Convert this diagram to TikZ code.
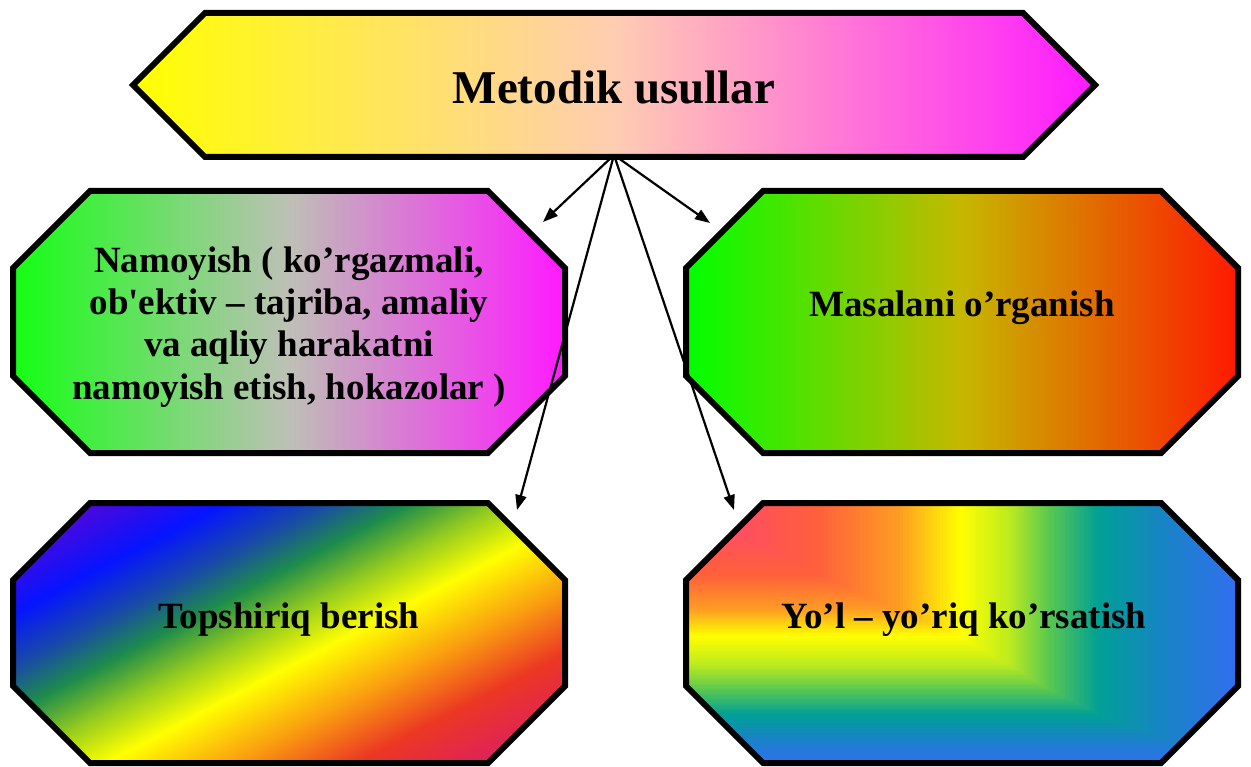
\documentclass[tikz,border=0pt]{standalone}
\usepackage{fontspec}
\setmainfont{Liberation Serif}[Ligatures=TeXOff]
\usetikzlibrary{arrows.meta}
\definecolor{topL}{RGB}{255,255,0}
\definecolor{topM}{RGB}{255,205,178}
\definecolor{topR}{RGB}{255,25,255}
\definecolor{namL}{RGB}{20,255,20}
\definecolor{namM}{RGB}{190,192,182}
\definecolor{namR}{RGB}{255,25,255}
\definecolor{masL}{RGB}{0,255,0}
\definecolor{masM}{RGB}{198,183,0}
\definecolor{masR}{RGB}{255,25,0}
\definecolor{rb0}{RGB}{120,0,200}
\definecolor{rb1}{RGB}{5,20,255}
\definecolor{rb2}{RGB}{25,75,165}
\definecolor{rb3}{RGB}{30,140,75}
\definecolor{rb4}{RGB}{150,205,30}
\definecolor{rb5}{RGB}{255,255,0}
\definecolor{rb6}{RGB}{250,160,15}
\definecolor{rb7}{RGB}{235,55,35}
\definecolor{rb8}{RGB}{215,20,125}
\definecolor{yl0}{RGB}{50,110,240}
\definecolor{yl1}{RGB}{25,130,200}
\definecolor{yl2}{RGB}{0,160,150}
\definecolor{yl3}{RGB}{90,200,80}
\definecolor{yl4}{RGB}{190,235,30}
\definecolor{yl5}{RGB}{255,255,0}
\definecolor{yl6}{RGB}{255,155,35}
\definecolor{yl7}{RGB}{255,95,60}
\definecolor{yl8}{RGB}{255,70,115}
\pgfdeclarehorizontalshading{rainbowdiag}{100bp}{color(0bp)=(rb0); color(25bp)=(rb0); color(35bp)=(rb1); color(40bp)=(rb2); color(44bp)=(rb3); color(48.5bp)=(rb4); color(53bp)=(rb5); color(59bp)=(rb6); color(65bp)=(rb7); color(75bp)=(rb8); color(100bp)=(rb8)}
\newcommand\octa[4]{({#1+77},#2) -- ({#3-77},#2) -- (#3,{#2+77}) -- (#3,{#4-77}) -- ({#3-77},#4) -- ({#1+77},#4) -- (#1,{#4-77}) -- (#1,{#2+77}) -- cycle}
\begin{document}
\begin{tikzpicture}[x=1pt,y=-1pt,line join=miter,
  border/.style={draw=black,line width=6pt},
  conn/.style={line width=2.2pt,-{Triangle[length=15pt,width=11pt]}},
  ttl/.style={font=\fontsize{47}{52}\selectfont\bfseries,inner sep=0pt,anchor=base},
  lbl/.style={font=\fontsize{37}{42.3}\selectfont\bfseries,align=center,inner sep=0pt,anchor=base}]
\useasboundingbox (0,0) rectangle (1251,767);
% top hexagon
\path[border,left color=topL,right color=topR,middle color=topM] (133,85) -- (205,13) -- (1023,13) -- (1095,85) -- (1023,157) -- (205,157) -- cycle;
% Namoyish
\path[border,left color=namL,right color=namR,middle color=namM] \octa{13}{191}{565}{453};
% Masalani
\path[border,left color=masL,right color=masR,middle color=masM] \octa{686}{191}{1238}{453};
% Topshiriq
\begin{scope}
  \clip \octa{13}{503}{565}{763};
  \begin{scope}[transform canvas={shift={(13,503)},rotate=-62.3}]
    \shade[shading=rainbowdiag] (0,-700) rectangle (487,700);
  \end{scope}
\end{scope}
\draw[border] \octa{13}{503}{565}{763};
% Yo'l
\begin{scope}
  \clip \octa{686}{503}{1238}{763};
  \fill[yl0] (680,495) rectangle (1245,770);
  \foreach \co/\xo/\yo/\ci/\xi/\yi in {yl0/1240/765/yl1/1170/740, yl1/1170/740/yl2/1100/715, yl2/1100/715/yl3/1050/690, yl3/1050/690/yl4/1010/665, yl4/1010/665/yl5/962/637, yl5/962/637/yl6/900/610, yl6/900/610/yl7/820/575, yl7/820/575/yl8/705/512}{
    \foreach \k in {1,...,20}{
      \pgfmathtruncatemacro\pp{5*\k}
      \fill[\ci!\pp!\co] (600,450) rectangle ({\xo+\k/20*(\xi-\xo)},{\yo+\k/20*(\yi-\yo)});
    }
  }
\end{scope}
\draw[border] \octa{686}{503}{1238}{763};
% texts
\node[ttl] (top) at (614,104) {Metodik usullar};
\node[lbl,anchor=center] (nam) at (289,327) {Namoyish ( ko’rgazmali,\\ob'ektiv – tajriba, amaliy\\va aqliy harakatni\\namoyish etish, hokazolar )};
\node[lbl] (mas) at (962,317) {Masalani o’rganish};
\node[lbl] (tops) at (289,628) {Topshiriq berish};
\node[lbl] (yol) at (964,628) {Yo’l – yo’riq ko’rsatish};
% connectors
\coordinate (src) at (614,155);
\coordinate (e1) at (543,222);
\coordinate (e2) at (710,223);
\coordinate (e3) at (517,510);
\coordinate (e4) at (734,510);
\draw[conn] (src) -- (e1);
\draw[conn] (src) -- (e2);
\draw[conn] (src) -- (e3);
\draw[conn] (src) -- (e4);
\end{tikzpicture}
\end{document}
